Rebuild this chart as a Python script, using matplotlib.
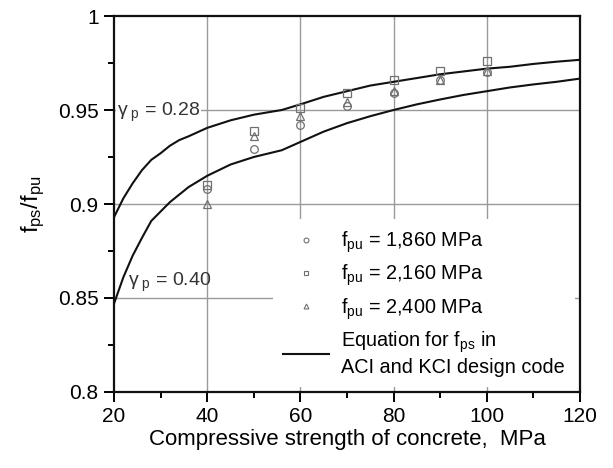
import matplotlib
matplotlib.use("Agg")
import matplotlib.pyplot as plt
from matplotlib.lines import Line2D

plt.rcParams['font.family'] = ['Liberation Sans', 'DejaVu Sans']
plt.rcParams['mathtext.fontset'] = 'custom'
plt.rcParams['mathtext.rm'] = 'Liberation Sans'
plt.rcParams['mathtext.it'] = 'Liberation Sans'
plt.rcParams['mathtext.default'] = 'regular'

# ---- data ----
fc_test = [40, 50, 60, 70, 80, 90, 100]
ratio_1860 = [0.908, 0.929, 0.942, 0.952, 0.959, 0.966, 0.970]
ratio_2160 = [0.910, 0.939, 0.951, 0.959, 0.966, 0.971, 0.976]
ratio_2400 = [0.900, 0.936, 0.947, 0.954, 0.960, 0.966, 0.971]

fc_curve = [20, 22, 24, 26, 28, 30, 32, 34, 36, 40, 45, 50, 56, 60, 65, 70, 75,
            80, 85, 90, 95, 100, 105, 110, 115, 120]
eq_gamma028 = [0.893, 0.903, 0.911, 0.918, 0.9235, 0.927, 0.931, 0.934, 0.936,
               0.9405, 0.9445, 0.9475, 0.950, 0.953, 0.957, 0.960, 0.963,
               0.965, 0.967, 0.969, 0.9705, 0.972, 0.973, 0.9745, 0.9757, 0.9767]
eq_gamma040 = [0.847, 0.861, 0.8725, 0.882, 0.891, 0.896, 0.901, 0.905, 0.909,
               0.915, 0.921, 0.925, 0.9286, 0.933, 0.9385, 0.943, 0.9467,
               0.950, 0.953, 0.9556, 0.958, 0.960, 0.962, 0.9636, 0.965, 0.9667]

xticks = [20, 40, 60, 80, 100, 120]
yticks = [0.8, 0.85, 0.9, 0.95, 1.0]
ytick_labels = ['0.8', '0.85', '0.9', '0.95', '1']

marker_color = '#707070'

fig = plt.figure(figsize=(6.13, 4.68), dpi=100)
ax = fig.add_axes([0.186, 0.1624, 0.760, 0.8034])

# grid lines
for xv in [40, 60, 80, 100]:
    ax.axvline(xv, color='#9a9a9a', lw=1.0, zorder=1)
for yv in [0.85, 0.9, 0.95]:
    ax.axhline(yv, color='#9a9a9a', lw=1.0, zorder=1)

ax.plot(fc_curve, eq_gamma028, color='#111111', lw=1.5, zorder=3)
ax.plot(fc_curve, eq_gamma040, color='#111111', lw=1.5, zorder=3)

ms = 5.5
ax.plot(fc_test, ratio_1860, 'o', mfc='none', mec=marker_color, ms=ms, mew=0.9, zorder=4)
ax.plot(fc_test, ratio_2160, 's', mfc='none', mec=marker_color, ms=ms, mew=0.9, zorder=4)
ax.plot(fc_test, ratio_2400, '^', mfc='none', mec=marker_color, ms=ms, mew=0.9, zorder=4)

ax.text(20.6, 0.9485, r'$\gamma_{\ p}$ = 0.28', fontsize=14, color='#333333',
        va='center', ha='left', zorder=5,
        bbox=dict(facecolor='white', edgecolor='none', pad=0.5))
ax.text(23.0, 0.8585, r'$\gamma_{\ p}$ = 0.40', fontsize=14, color='#333333',
        va='center', ha='left', zorder=5)

ax.set_xlim(20, 120)
ax.set_ylim(0.8, 1.0)
ax.set_xticks(xticks)
ax.set_xticks([30, 50, 70, 90, 110], minor=True)
ax.set_yticks(yticks)
ax.set_yticklabels(ytick_labels)
ax.set_yticks([0.825, 0.875, 0.925, 0.975], minor=True)
ax.tick_params(axis='both', which='major', direction='out', length=7, width=1.4,
               labelsize=15, pad=4)
ax.tick_params(axis='both', which='minor', direction='out', length=4, width=1.4)

for sp in ax.spines.values():
    sp.set_linewidth(1.6)
    sp.set_color('#111111')

ax.set_xlabel('Compressive strength of concrete,  MPa', fontsize=16, labelpad=2)
ax.set_ylabel(r'$f_{ps}/f_{pu}$', fontsize=17, labelpad=8)

handles = [
    Line2D([], [], ls='none', marker='o', mfc='none', mec=marker_color, ms=3.5, mew=0.8),
    Line2D([], [], ls='none', marker='s', mfc='none', mec=marker_color, ms=3.5, mew=0.8),
    Line2D([], [], ls='none', marker='^', mfc='none', mec=marker_color, ms=3.5, mew=0.8),
    Line2D([], [], color='#111111', lw=1.5),
]
labels = [r'$f_{pu}$ = 1,860 MPa', r'$f_{pu}$ = 2,160 MPa', r'$f_{pu}$ = 2,400 MPa',
          'Equation for $f_{ps}$ in\nACI and KCI design code']
leg = ax.legend(handles, labels, loc='lower right', bbox_to_anchor=(1.0, 0.0),
                fontsize=14.3, frameon=True, fancybox=False, edgecolor='none',
                facecolor='white', framealpha=1.0, borderaxespad=0.25,
                handlelength=2.35, handletextpad=0.6, labelspacing=0.4,
                borderpad=0.5)
leg.set_zorder(6)

fig.savefig('out.png', dpi=100)
